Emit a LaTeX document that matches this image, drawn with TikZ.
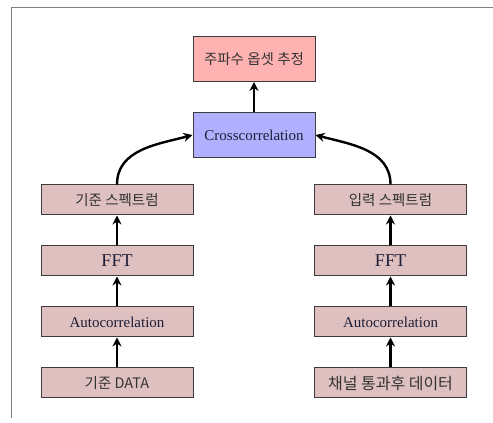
\documentclass[tikz,border=0pt]{standalone}
\usepackage{fontspec}
\setmainfont{Liberation Serif}
\newfontfamily\krfont{Noto Sans CJK KR}
\usetikzlibrary{positioning,arrows.meta}
\definecolor{boxred}{RGB}{255,178,178}
\definecolor{boxblue}{RGB}{176,176,255}
\definecolor{boxpink}{RGB}{222,192,193}
\definecolor{boxline}{RGB}{60,60,60}
\definecolor{txtgray}{RGB}{50,50,50}
\definecolor{txtnavy}{RGB}{30,30,55}
\begin{document}
\begin{tikzpicture}[x=1pt,y=1pt,node distance=30pt,>={Stealth[length=9pt,width=9pt]},line width=2.4pt,
    block/.style={rectangle,draw=boxline,line width=1pt,fill=boxpink,minimum width=152pt,minimum height=30pt,inner sep=0pt},
    bigblock/.style={block,minimum width=122pt,minimum height=45pt},
    kr/.style={font=\krfont\fontsize{14.5}{15}\selectfont,text=txtgray},
    lat/.style={font=\fontsize{15}{16}\selectfont,text=txtnavy}]
    \useasboundingbox (0,0) rectangle (493,423);
    % frame
    \draw[gray,line width=0.8pt] (11,5) -- (11,416) -- (493,416);
    % left column
    \node[block,kr] (ldata) at (117,40) {기준 DATA};
    \node[block,lat,above=of ldata] (lauto) {Autocorrelation};
    \node[block,lat,font=\fontsize{18}{19}\selectfont,above=of lauto] (lfft) {FFT};
    \node[block,kr,above=of lfft] (lspec) {기준 스펙트럼};
    % right column
    \node[block,kr,font=\krfont\fontsize{16}{17}\selectfont] (rdata) at (390.5,40) {채널 통과후 데이터};
    \node[block,lat,above=of rdata] (rauto) {Autocorrelation};
    \node[block,lat,font=\fontsize{18}{19}\selectfont,above=of rauto] (rfft) {FFT};
    \node[block,kr,above=of rfft] (rspec) {입력 스펙트럼};
    % middle
    \node[bigblock,lat,fill=boxblue] (cross) at (254,288) {Crosscorrelation};
    \node[bigblock,kr,fill=boxred,above=of cross] (offset) {주파수 옵셋 추정};
    % arrows
    \draw[->] (ldata) -- (lauto);
    \draw[->] (lauto) -- (lfft);
    \draw[->] (lfft) -- (lspec);
    \draw[->] (rdata) -- (rauto);
    \draw[->] (rauto) -- (rfft);
    \draw[->] (rfft) -- (rspec);
    \draw[->] (lspec.north) to[out=90,in=195] (cross.west);
    \draw[->] (rspec.north) to[out=90,in=-15] (cross.east);
    \draw[->] (cross) -- (offset);
  \end{tikzpicture}
\end{document}
